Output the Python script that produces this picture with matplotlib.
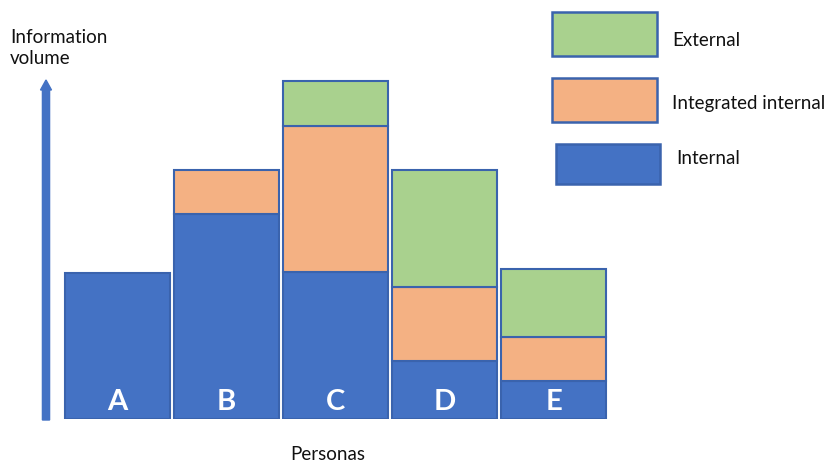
import matplotlib
matplotlib.use("Agg")
import matplotlib.pyplot as plt
from matplotlib.patches import Rectangle, FancyArrow
import numpy as np

plt.rcParams['font.family'] = ['Lato', 'DejaVu Sans']

personas = ["A", "B", "C", "D", "E"]
internal = [146, 205, 147, 58, 38]
integrated = [0, 44, 146, 74, 44]
external = [0, 0, 45, 117, 68]
series_names = ["External", "Integrated internal", "Internal"]

c_int = "#4472C4"
c_integ = "#F4B183"
c_ext = "#A9D18E"
edge = "#3A63AD"

W, H = 828, 463
fig = plt.figure(figsize=(W / 100, H / 100), dpi=100)

ax = fig.add_axes([63 / W, (H - 419) / H, (608 - 63) / W, 400 / H])
x = np.arange(len(personas))
bw = 0.955
internal = np.array(internal)
integrated = np.array(integrated)
external = np.array(external)

ax.bar(x, internal, bw, color=c_int, edgecolor=edge, linewidth=1.5)
m = integrated > 0
ax.bar(x[m], integrated[m], bw, bottom=internal[m], color=c_integ, edgecolor=edge, linewidth=1.5)
m = external > 0
ax.bar(x[m], external[m], bw, bottom=(internal + integrated)[m], color=c_ext, edgecolor=edge, linewidth=1.5)

for xi, lab in zip(x, personas):
    ax.text(xi, 17, lab, ha="center", va="center", color="white", fontsize=21, fontweight="bold")

ax.set_xlim(-0.5, 4.5)
ax.set_ylim(0, 400)
ax.axis("off")

# vertical arrow (y axis)
fig.patches.append(FancyArrow(46 / W, (H - 420) / H, 0, (420 - 80) / H - 10 / H,
                              width=4 / H, head_width=11 / W, head_length=10 / H,
                              length_includes_head=False, transform=fig.transFigure,
                              color=c_int, figure=fig))

fig.text(10 / W, 1 - 48 / H, "Information\nvolume", ha="left", va="center",
         fontsize=13.5, linespacing=1.35, color="#111111")
fig.text(328 / W, 1 - 455 / H, "Personas", ha="center", va="center", fontsize=13.5, color="#111111")

# legend boxes
legend_boxes = [(552, 12, 657, 56, c_ext), (552, 78, 657, 122, c_integ), (556, 144, 660, 184, c_int)]
legend_text_pos = [(672, 40), (672, 103), (676, 158)]
for (x0, y0, x1, y1, col), name, (tx, ty) in zip(legend_boxes, series_names, legend_text_pos):
    fig.patches.append(Rectangle((x0 / W, 1 - y1 / H), (x1 - x0) / W, (y1 - y0) / H,
                                 transform=fig.transFigure, facecolor=col, edgecolor=edge,
                                 linewidth=1.8, figure=fig))
    fig.text(tx / W, 1 - ty / H, name, ha="left", va="center", fontsize=13.5, color="#111111")

fig.savefig("out.png", dpi=100, facecolor="white")
